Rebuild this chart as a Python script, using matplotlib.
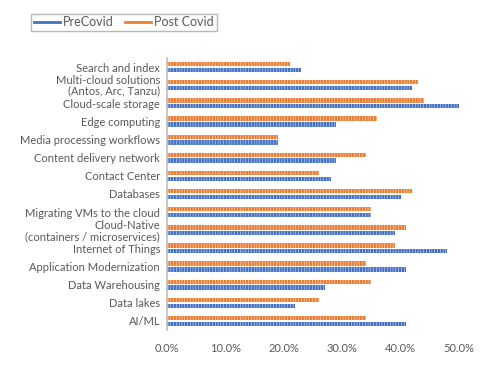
import numpy as np
import matplotlib
matplotlib.use("Agg")
import matplotlib.pyplot as plt

categories = ["Search and index", "Multi-cloud solutions\n(Antos, Arc, Tanzu)", "Cloud-scale storage",
              "Edge computing", "Media processing workflows", "Content delivery network",
              "Contact Center", "Databases", "Migrating VMs to the cloud",
              "Cloud-Native\n(containers / microservices)", "Internet of Things",
              "Application Modernization", "Data Warehousing", "Data lakes", "AI/ML"]
pre_covid = [23, 42, 50, 29, 19, 29, 28, 40, 35, 39, 48, 41, 27, 22, 41]
post_covid = [21, 43, 44, 36, 19, 34, 26, 42, 35, 41, 39, 34, 35, 26, 34]
x_ticks = [0, 10, 20, 30, 40, 50]

blue = "#4472C4"
orange = "#ED7D31"
grey = "#595959"

plt.rcParams["font.family"] = ["Lato", "DejaVu Sans"]
plt.rcParams["hatch.color"] = "white"
plt.rcParams["hatch.linewidth"] = 0.3

fig = plt.figure(figsize=(5.03, 3.67), dpi=100)
ax = fig.add_axes([0.332, 0.1008, 0.9125 - 0.332, 0.842 - 0.1008])

y = np.arange(len(categories))
h = 0.24
ax.barh(y - 0.16, np.array(post_covid) / 100, height=h, color=orange, hatch="||||||", linewidth=0,
        label="Post Covid")
ax.barh(y + 0.16, np.array(pre_covid) / 100, height=h, color=blue, hatch="||||||", linewidth=0,
        label="PreCovid")

ax.set_ylim(len(categories) - 0.5, -0.5)
ax.set_yticks(y)
ax.set_yticklabels(categories, fontsize=8, color=grey, linespacing=0.95)
ax.set_xlim(0, 0.5)
ax.set_xticks([t / 100 for t in x_ticks])
ax.set_xticklabels([f"{t:.1f}%" for t in x_ticks], fontsize=8, color=grey)
ax.tick_params(axis="both", length=0, pad=5)
ax.tick_params(axis="x", pad=9)
for s in ["top", "right", "bottom"]:
    ax.spines[s].set_visible(False)
ax.spines["left"].set_color("#BFBFBF")
ax.spines["left"].set_linewidth(1.2)

handles = [plt.Line2D([], [], color=blue, lw=2), plt.Line2D([], [], color=orange, lw=2)]
leg = fig.legend(handles, ["PreCovid", "Post Covid"], loc="upper left", bbox_to_anchor=(0.062, 0.962),
                 ncol=2, fontsize=9, frameon=True, fancybox=False, handlelength=2.1,
                 columnspacing=0.9, borderpad=0.2, handletextpad=0.25, borderaxespad=0)
leg.get_frame().set_edgecolor("#A6A6A6")
leg.get_frame().set_linewidth(1.0)
for t in leg.get_texts():
    t.set_color(grey)

fig.savefig("out.png", dpi=100)
